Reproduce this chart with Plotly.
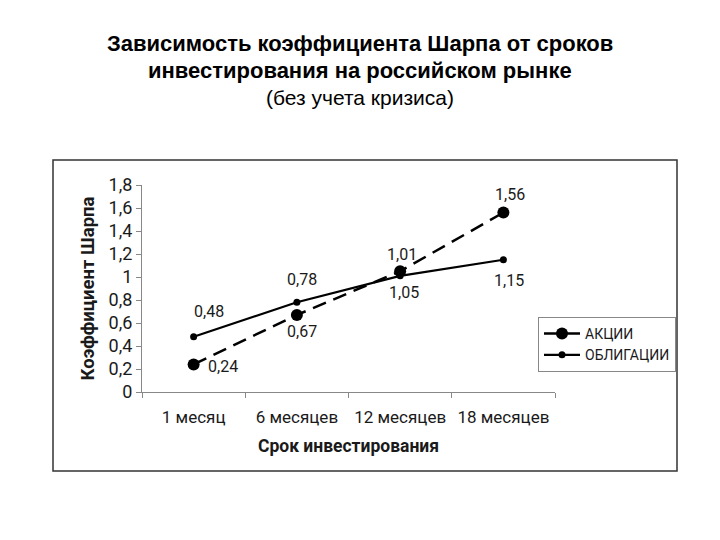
import plotly.graph_objects as go

categories = ["1 месяц", "6 месяцев", "12 месяцев", "18 месяцев"]
stocks = [0.24, 0.67, 1.05, 1.56]
bonds = [0.48, 0.78, 1.01, 1.15]
series_names = ["АКЦИИ", "ОБЛИГАЦИИ"]
y_ticks = [0, 0.2, 0.4, 0.6, 0.8, 1.0, 1.2, 1.4, 1.6, 1.8]

TFONT = "Liberation Sans, Arial, sans-serif"
FONT = "Roboto, Liberation Sans, sans-serif"
TXT = "#1a1a1a"

W, H = 720, 540
L, R, T, B = 142, 555, 185, 392  # plot area pixel box

# label offsets in screen pixels (dx right, dy down) - styling only
stock_off = [(29, 2), (5, 17), (4, 21), (7, -18)]
bond_off = [(15, -25), (5, -23), (2, -21), (6, 21)]

fig = go.Figure()
fig.add_trace(go.Scatter(
    x=categories, y=stocks, name=series_names[0], mode="lines+markers",
    line=dict(color="black", width=2.5, dash="14px,8px"),
    marker=dict(color="black", size=12),
))
fig.add_trace(go.Scatter(
    x=categories, y=bonds, name=series_names[1], mode="lines+markers",
    line=dict(color="black", width=2.2),
    marker=dict(color="black", size=7),
))

annotations = []
for vals, offs in ((stocks, stock_off), (bonds, bond_off)):
    for c, v, (dx, dy) in zip(categories, vals, offs):
        annotations.append(dict(
            x=c, y=v, xref="x", yref="y", text=f"{v:.2f}".replace(".", ","),
            showarrow=False, xanchor="center", yanchor="middle",
            xshift=dx, yshift=-dy,
            font=dict(family=FONT, size=16, color=TXT),
        ))

pw, ph = R - L, B - T
def px(x):
    return (x - L) / pw
def py(y):
    return (B - y) / ph

annotations += [
    dict(text="<b>Зависимость коэффициента Шарпа от сроков</b>", xref="paper", yref="paper",
         x=px(360), y=py(43), xanchor="center", yanchor="middle", showarrow=False,
         font=dict(family=TFONT, size=22, color="black")),
    dict(text="<b>инвестирования на российском рынке</b>", xref="paper", yref="paper",
         x=px(360), y=py(70), xanchor="center", yanchor="middle", showarrow=False,
         font=dict(family=TFONT, size=22, color="black")),
    dict(text="(без учета кризиса)", xref="paper", yref="paper",
         x=px(360), y=py(97), xanchor="center", yanchor="middle", showarrow=False,
         font=dict(family=TFONT, size=21, color="black")),
]

fig.update_layout(
    width=W, height=H,
    margin=dict(l=L, r=W - R, t=T, b=H - B, pad=0),
    paper_bgcolor="white", plot_bgcolor="white",
    separators=", ",
    font=dict(family=FONT, color=TXT),
    showlegend=True,
    legend=dict(
        x=px(538), y=py(317), xanchor="left", yanchor="top",
        bordercolor="#888", borderwidth=1, bgcolor="white",
        font=dict(family=FONT, size=14, color=TXT),
        tracegroupgap=0, itemwidth=36,
    ),
    xaxis=dict(
        type="category", range=[-0.5, 3.5], tickson="boundaries",
        showline=True, linecolor="#888", linewidth=1,
        ticks="outside", ticklen=5, tickcolor="#888",
        showgrid=False, zeroline=False, ticklabelstandoff=10,
        tickfont=dict(family=FONT, size=17, color=TXT),
        title=dict(text="<b>Срок инвестирования</b>", standoff=13,
                   font=dict(family=FONT, size=17.5, color=TXT)),
    ),
    yaxis=dict(
        range=[0, 1.8], tickvals=y_ticks,
        showline=True, linecolor="#888", linewidth=1,
        ticks="outside", ticklen=5, tickcolor="#888",
        showgrid=False, zeroline=False,
        tickfont=dict(family=FONT, size=18, color=TXT),
        title=dict(text="<b>Коэффициент Шарпа</b>", standoff=9,
                   font=dict(family=FONT, size=18.5, color=TXT)),
    ),
    shapes=[dict(
        type="rect", xref="paper", yref="paper",
        x0=px(53), x1=px(677), y0=py(471), y1=py(160),
        line=dict(color="#333", width=1.5), fillcolor="rgba(0,0,0,0)", layer="below",
    )],
    annotations=annotations,
)

fig.write_html("out.html")
